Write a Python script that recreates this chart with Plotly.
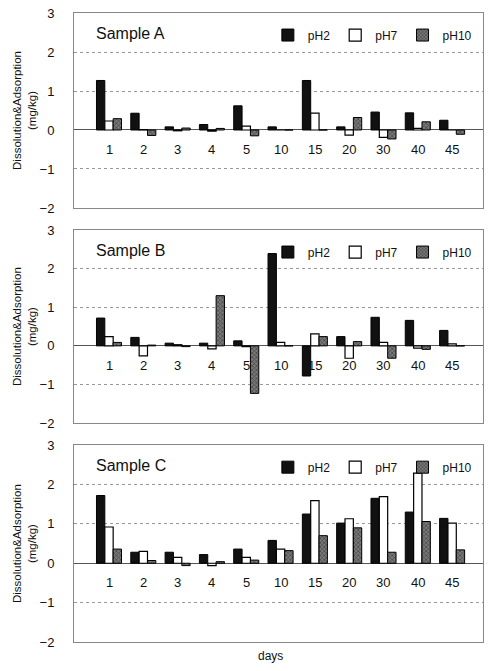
import plotly.graph_objects as go

days = ["1", "2", "3", "4", "5", "10", "15", "20", "30", "40", "45"]
series_names = ["pH2", "pH7", "pH10"]

a_ph2 = [1.27, 0.43, 0.08, 0.14, 0.62, 0.08, 1.27, 0.08, 0.46, 0.44, 0.25]
a_ph7 = [0.23, 0.01, -0.02, -0.03, 0.10, 0.00, 0.43, -0.13, -0.19, 0.04, 0.00]
a_ph10 = [0.29, -0.14, 0.05, 0.04, -0.15, 0.00, 0.00, 0.32, -0.23, 0.21, -0.11]

b_ph2 = [0.72, 0.22, 0.07, 0.07, 0.13, 2.39, -0.78, 0.24, 0.74, 0.66, 0.40]
b_ph7 = [0.24, -0.26, 0.03, -0.08, -0.02, 0.09, 0.31, -0.32, 0.09, -0.06, 0.05]
b_ph10 = [0.09, 0.02, -0.02, 1.30, -1.23, 0.00, 0.24, 0.11, -0.32, -0.09, 0.00]

c_ph2 = [1.72, 0.28, 0.28, 0.22, 0.36, 0.58, 1.25, 1.02, 1.65, 1.30, 1.14]
c_ph7 = [0.92, 0.30, 0.15, -0.06, 0.15, 0.36, 1.59, 1.13, 1.69, 2.29, 1.02]
c_ph10 = [0.36, 0.07, -0.06, 0.04, 0.08, 0.32, 0.70, 0.90, 0.28, 1.06, 0.34]

panels = [
    ("Sample A", [a_ph2, a_ph7, a_ph10]),
    ("Sample B", [b_ph2, b_ph7, b_ph10]),
    ("Sample C", [c_ph2, c_ph7, c_ph10]),
]

FONT = "Liberation Sans, Arial, sans-serif"
domains = [(0.690, 1.0), (0.348, 0.655), (0.0, 0.313)]

styles = [
    dict(color="#111111", line=dict(color="#000000", width=1)),
    dict(color="#ffffff", line=dict(color="#000000", width=1.2)),
    dict(color="#666666", line=dict(color="#000000", width=1),
         pattern=dict(shape="x", size=3, solidity=0.45, fgcolor="#111111", bgcolor="#7a7a7a")),
]

fig = go.Figure()
annotations = []
layout_axes = {}
for i, (title, series) in enumerate(panels):
    n = "" if i == 0 else str(i + 1)
    xa, ya = "x" + n, "y" + n
    leg = "legend" + n
    for name, vals, st in zip(series_names, series, styles):
        fig.add_trace(go.Bar(x=days, y=vals, name=name, marker=st,
                             xaxis=xa, yaxis=ya, legend=leg, offsetgroup=name))
    layout_axes["xaxis" + n] = dict(
        domain=[0, 1], anchor=ya, type="category", range=[-1.02, len(days) - 0.1],
        showticklabels=False,
        showgrid=False, showline=True, mirror=True, linecolor="#888888", linewidth=1,
        ticks="", zeroline=False, fixedrange=True)
    layout_axes["yaxis" + n] = dict(
        domain=list(domains[i]), anchor=xa, range=[-2, 3],
        tickvals=[-2, -1, 0, 1, 2, 3], ticktext=["\u22122", "\u22121", "0", "1", "2", "3"],
        showgrid=True, gridcolor="#999999", griddash="dot", gridwidth=1,
        zeroline=True, zerolinecolor="#555555", zerolinewidth=1,
        showline=True, mirror=True, linecolor="#888888", linewidth=1,
        ticks="outside", ticklen=16, tickcolor="rgba(0,0,0,0)",
        tickfont=dict(family=FONT, size=13, color="#111111"),
        title=dict(text="Dissolution&Adsorption<br>(mg/kg)", standoff=0,
                   font=dict(family=FONT, size=11.5, color="#111111")),
        automargin=False)
    layout_axes[leg] = dict(
        orientation="h", x=0.985, xanchor="right", y=domains[i][1] - 0.012, yanchor="top",
        bgcolor="rgba(0,0,0,0)", font=dict(family=FONT, size=12, color="#111111"),
        itemwidth=30, tracegroupgap=0, entrywidth=0)
    annotations.append(dict(text=title, xref="paper", yref="paper", x=0.05,
                            y=domains[i][1] - 0.032, xanchor="left", yanchor="middle",
                            showarrow=False, font=dict(family=FONT, size=16, color="#111111")))
    for k, d in enumerate(days):
        annotations.append(dict(text=d, xref=xa, yref=ya, x=k, y=-0.5,
                                xanchor="center", yanchor="middle", showarrow=False,
                                font=dict(family=FONT, size=13, color="#111111")))

annotations.append(dict(text="days", xref="paper", yref="paper", x=0.48, y=-0.008,
                        xanchor="center", yanchor="top", showarrow=False,
                        font=dict(family=FONT, size=12, color="#111111")))

fig.update_layout(
    width=488, height=671,
    margin=dict(l=74, r=5, t=13, b=29),
    paper_bgcolor="white", plot_bgcolor="white",
    barmode="group", bargap=0.27, bargroupgap=0,
    annotations=annotations,
    **layout_axes,
)

fig.write_html("out.html")
